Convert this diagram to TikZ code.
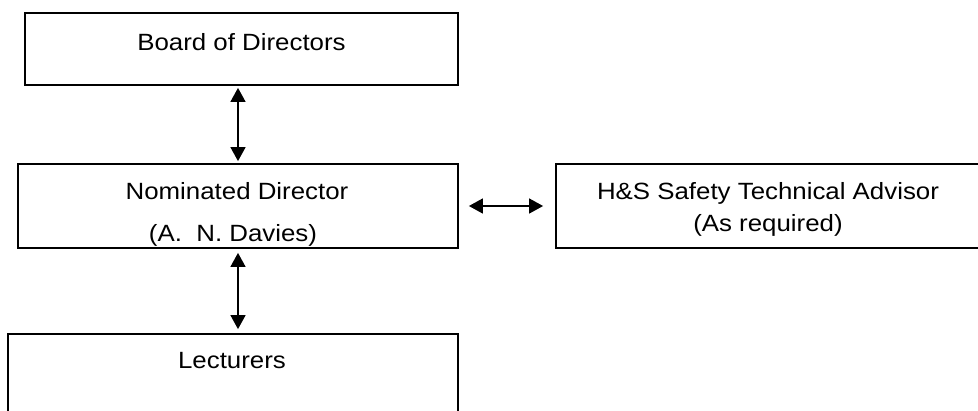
\documentclass[tikz,border=0pt]{standalone}
\usepackage{fontspec}
\setmainfont{Liberation Sans}[FakeStretch=1.1]
\usetikzlibrary{arrows.meta,calc,positioning}

\begin{document}
\begin{tikzpicture}[x=1pt,y=-1pt,>={Triangle[length=14pt,width=15pt]},
  orgbox/.style={rectangle,draw=black,line width=1.8pt,inner sep=0pt},
  boxtext/.style={anchor=base,inner sep=0pt,font=\fontsize{23.5}{28}\selectfont},
  link/.style={<->,line width=1.4pt}]

  \useasboundingbox (0,0) rectangle (978,410);
  \clip (0,0) rectangle (978,410);

  \node [orgbox,minimum width=433pt,minimum height=72pt] (board) at (241.5,49) {};
  \node [orgbox,minimum width=440pt,minimum height=84pt] (nom) at (238,206) {};
  \node [orgbox,minimum width=436pt,minimum height=84pt] (hs) at (774,206) {};
  \node [orgbox,minimum width=450pt,minimum height=90pt] (lect) at (233,379) {};

  \node [boxtext] (boardtxt) at ($(board.north)+(0,38)$) {Board of Directors};
  \node [boxtext] (nomtxt) at ($(nom.north)+(-1,36)$) {Nominated Director};
  \node [boxtext] (nomname) at ($(nom.north)+(-5,78)$) {(A.\ \ N. Davies)};
  \node [boxtext] (hstxt) at ($(hs.north)+(-6,36)$) {H\&S Safety Technical Advisor};
  \node [boxtext] (hsnote) at ($(hs.north)+(-6,68)$) {(As required)};
  \node [boxtext] (lecttxt) at ($(lect.north)+(-1,35)$) {Lecturers};

  \draw [link,shorten <=2pt,shorten >=2pt] (nom.north |- board.south) -- (nom.north);
  \draw [link,shorten <=4pt,shorten >=4pt] (nom.south) -- (nom.south |- lect.north);
  \draw [link,shorten <=10pt,shorten >=12pt] (nom.east) -- (hs.west);

\end{tikzpicture}
\end{document}
